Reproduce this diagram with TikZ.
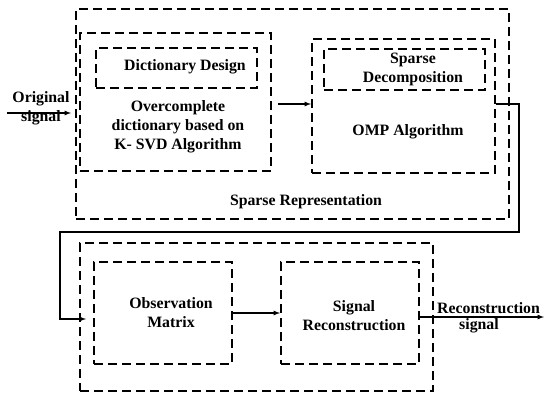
\documentclass[tikz,border=0pt]{standalone}
\usepackage{fontspec}
\setmainfont{Liberation Serif}
\usetikzlibrary{positioning}

\begin{document}
\begin{tikzpicture}[x=1pt,y=-1pt,
  dbox/.style={draw, line width=1.9pt, dash pattern=on 9pt off 5pt, inner sep=0pt},
  txt/.style={font=\bfseries\fontsize{15.8}{19}\selectfont, align=center, inner sep=0pt},
  conn/.style={line width=1.2pt, >=latex}]

\useasboundingbox (0,0) rectangle (544,392);

% sparse representation part
\node[dbox, minimum width=433, minimum height=210] (sparserep) at (292.5,114) {};
\node[txt] (sparselbl) at (306,202) {Sparse Representation};

\node[dbox, minimum width=191, minimum height=138] (ksvd) at (175.5,102) {};
\node[dbox, minimum width=161, minimum height=40] (dict) at (176.5,68) {};
\node[txt] at (185,67) (dictlbl) {Dictionary Design};
\node[txt] (ksvdlbl) at (178,127) {Overcomplete\\dictionary based on\\K- SVD Algorithm};

\node[dbox, minimum width=183, minimum height=134] (omp) at (403.5,106) {};
\node[dbox, minimum width=161, minimum height=41] (decomp) at (404.5,69.5) {};
\node[txt] (decomplbl) at (413,69.5) {Sparse\\Decomposition};
\node[txt] (omplbl) at (408,132) {OMP Algorithm};

% reconstruction part
\node[dbox, minimum width=353, minimum height=148] (recpart) at (256.5,317) {};
\node[dbox, minimum width=138, minimum height=102] (obs) at (163,313) {};
\node[txt] (obslbl) at (171,313) {Observation\\Matrix};
\node[dbox, minimum width=138, minimum height=102] (recon) at (350,313) {};
\node[txt] (reconlbl) at (354,316) {Signal\\Reconstruction};

% input and output
\coordinate (in) at (7,113);
\node[txt] (inlbl) at (41,108.5) {Original\\signal};
\coordinate (out) at (544,317);
\node[txt, anchor=west] (outlbl1) at (437,308) {Reconstruction};
\node[txt] (outlbl2) at (479,326) {signal};

\coordinate (turn) at (519,232);
\coordinate (back) at (60,232);

\draw [conn,->] (in) -- ([xshift=-4pt]sparserep.west |- in);
\draw [conn,->] ([xshift=6pt,yshift=-2pt]ksvd.east) -- ([yshift=-2pt]ksvd.east -| omp.west);
\draw [conn,->] ([yshift=2pt]omp.east) -| (turn) -- (back) |- ([xshift=-7pt,yshift=-6pt]obs.west);
\draw [conn,->] (obs.east) -- (recon.west);
\draw [conn,->] ([yshift=-4pt]recon.east) -- (out);

\end{tikzpicture}
\end{document}
